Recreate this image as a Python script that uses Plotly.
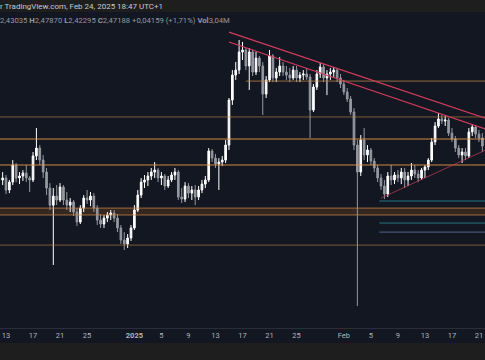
import plotly.graph_objects as go
import pandas as pd

# 12h candles, XRPUSD style, Dec 12 2024 12:00 -> Feb 21 2025 12:00
start = "2024-12-12 12:00"
n_candles = 143

opens = [2.537,2.549,2.476,2.524,2.628,2.549,2.561,2.579,2.549,2.537,
         2.683,2.731,2.658,2.585,2.488,2.384,2.439,2.415,2.494,2.415,
         2.384,2.403,2.342,2.281,2.366,2.427,2.415,2.439,2.366,2.293,
         2.269,2.305,2.324,2.336,2.305,2.245,2.172,2.148,2.184,2.245,
         2.354,2.445,2.524,2.537,2.561,2.585,2.597,2.549,2.561,2.500,
         2.537,2.567,2.585,2.433,2.421,2.500,2.457,2.476,2.433,2.476,
         2.512,2.537,2.713,2.670,2.634,2.646,2.658,2.749,3.023,3.175,
         3.205,3.315,3.327,3.230,3.315,3.193,3.278,3.230,3.059,3.145,
         3.291,3.157,3.193,3.230,3.193,3.175,3.157,3.205,3.157,3.175,
         3.181,3.163,2.962,3.102,3.181,3.224,3.157,3.181,3.193,3.205,
         3.157,3.120,3.072,3.029,2.950,2.749,2.585,2.780,2.689,2.719,
         2.652,2.610,2.549,2.500,2.451,2.561,2.537,2.567,2.549,2.585,
         2.537,2.561,2.597,2.573,2.549,2.597,2.616,2.658,2.768,2.865,
         2.908,2.895,2.901,2.822,2.786,2.731,2.689,2.707,2.683,2.829,
         2.859,2.816,2.792]
highs = [2.585,2.567,2.537,2.658,2.640,2.585,2.597,2.628,2.561,2.707,
         2.853,2.749,2.689,2.610,2.518,2.488,2.506,2.518,2.506,2.464,
         2.427,2.415,2.366,2.384,2.445,2.476,2.464,2.457,2.384,2.330,
         2.324,2.342,2.354,2.354,2.330,2.263,2.220,2.208,2.263,2.384,
         2.476,2.549,2.567,2.585,2.610,2.646,2.610,2.585,2.573,2.561,
         2.585,2.610,2.597,2.488,2.524,2.518,2.500,2.506,2.500,2.537,
         2.561,2.731,2.725,2.695,2.670,2.683,2.780,3.035,3.205,3.254,
         3.388,3.376,3.339,3.339,3.327,3.315,3.291,3.254,3.169,3.327,
         3.303,3.218,3.284,3.254,3.230,3.218,3.230,3.230,3.193,3.205,
         3.218,3.181,3.120,3.205,3.248,3.242,3.205,3.218,3.224,3.218,
         3.181,3.145,3.096,3.047,2.974,2.780,2.810,2.853,2.749,2.731,
         2.670,2.628,2.573,2.537,2.585,2.628,2.585,2.597,2.610,2.610,
         2.585,2.640,2.628,2.597,2.610,2.628,2.670,2.792,2.889,2.944,
         2.932,2.926,2.914,2.853,2.804,2.749,2.731,2.731,2.853,2.877,
         2.871,2.841,2.822]
lows = [2.506,2.451,2.457,2.506,2.524,2.512,2.531,2.524,2.464,2.524,
        2.658,2.628,2.549,2.445,2.354,2.020,2.384,2.403,2.384,2.354,
        2.342,2.318,2.257,2.269,2.342,2.391,2.378,2.342,2.263,2.245,
        2.245,2.281,2.293,2.281,2.220,2.148,2.111,2.123,2.166,2.233,
        2.342,2.427,2.488,2.500,2.537,2.549,2.524,2.506,2.476,2.488,
        2.524,2.537,2.415,2.397,2.403,2.427,2.415,2.384,2.415,2.457,
        2.488,2.524,2.646,2.610,2.476,2.622,2.640,2.719,2.993,3.145,
        3.181,3.266,3.205,3.084,3.169,3.175,3.193,2.932,3.035,3.132,
        3.132,3.132,3.169,3.169,3.145,3.132,3.145,3.132,3.132,3.145,
        3.145,2.792,2.950,3.084,3.157,3.132,3.053,3.145,3.157,3.132,
        3.096,3.053,3.011,2.932,2.719,1.771,2.561,2.658,2.646,2.628,
        2.585,2.524,2.476,2.421,2.433,2.506,2.512,2.524,2.512,2.488,
        2.500,2.537,2.549,2.524,2.537,2.549,2.597,2.646,2.749,2.853,
        2.877,2.865,2.804,2.768,2.707,2.670,2.640,2.658,2.670,2.804,
        2.792,2.768,2.707]
closes = [2.549,2.476,2.524,2.628,2.549,2.561,2.579,2.549,2.537,2.683,
          2.731,2.658,2.585,2.488,2.384,2.439,2.415,2.494,2.415,2.384,
          2.403,2.342,2.281,2.366,2.427,2.415,2.439,2.366,2.293,2.269,
          2.305,2.324,2.336,2.305,2.245,2.172,2.148,2.184,2.245,2.354,
          2.445,2.524,2.537,2.561,2.585,2.597,2.549,2.561,2.500,2.537,
          2.567,2.585,2.433,2.421,2.500,2.457,2.476,2.433,2.476,2.512,
          2.537,2.713,2.670,2.634,2.646,2.658,2.749,3.023,3.175,3.205,
          3.315,3.327,3.230,3.315,3.193,3.278,3.230,3.059,3.145,3.291,
          3.157,3.193,3.230,3.193,3.175,3.157,3.205,3.157,3.175,3.181,
          3.163,2.962,3.102,3.181,3.224,3.157,3.181,3.193,3.205,3.157,
          3.120,3.072,3.029,2.950,2.749,2.585,2.780,2.689,2.719,2.652,
          2.610,2.549,2.500,2.451,2.561,2.537,2.567,2.549,2.585,2.537,
          2.561,2.597,2.573,2.549,2.597,2.616,2.658,2.768,2.865,2.908,
          2.895,2.901,2.822,2.786,2.731,2.689,2.707,2.683,2.829,2.859,
          2.816,2.792,2.743]

# horizontal support / resistance levels
orange_levels = [2.920, 2.786, 2.628, 2.141]
band_levels = [2.366, 2.324]
short_level = 3.138
short_level_start = "2025-01-17 12:00"
teal_levels = [2.409, 2.275, 2.220]
teal_start = "2025-02-06 06:00"

# trend lines (time, price)
upper_trend = [("2025-01-15 00:00", 3.436), ("2025-02-22 00:00", 2.912)]
lower_trend = [("2025-01-15 00:00", 3.376), ("2025-02-22 00:00", 2.846)]
rising_trend = [("2025-02-06 12:00", 2.427), ("2025-02-22 00:00", 2.719)]

tick_dates = ["2024-12-13","2024-12-17","2024-12-21","2024-12-25","2025-01-01",
              "2025-01-05","2025-01-09","2025-01-13","2025-01-17","2025-01-21",
              "2025-01-25","2025-02-01","2025-02-05","2025-02-09","2025-02-13",
              "2025-02-17","2025-02-21"]
tick_labels = ["13","17","21","25","<b>2025</b>","5","9","13","17","21","25",
               "Feb","5","9","13","17","21"]

times = pd.date_range(start=start, periods=n_candles, freq="12h")

BG = "#131722"
STRIP = "#1e1e1e"

fig = go.Figure()
fig.add_trace(go.Candlestick(
    x=times, open=opens, high=highs, low=lows, close=closes,
    increasing=dict(line=dict(color="#ffffff", width=1), fillcolor="#ffffff"),
    decreasing=dict(line=dict(color="#9598a1", width=1), fillcolor="#9598a1"),
    whiskerwidth=0, showlegend=False, hoverinfo="skip",
))

x_start = "2024-12-12 02:40"
x_end = "2025-02-21 21:20"

shapes = []
# band fill
shapes.append(dict(type="rect", xref="paper", x0=0, x1=1, yref="y",
                   y0=band_levels[1], y1=band_levels[0],
                   fillcolor="rgba(120,72,30,0.35)", line=dict(width=0), layer="below"))
for lv in band_levels:
    shapes.append(dict(type="line", xref="paper", x0=0, x1=1, yref="y", y0=lv, y1=lv,
                       line=dict(color="rgba(200,135,70,0.75)", width=1)))
for k, lv in enumerate(orange_levels):
    col = "rgba(230,150,70,0.9)" if k in (1, 2) else "rgba(200,135,70,0.6)"
    shapes.append(dict(type="line", xref="paper", x0=0, x1=1, yref="y", y0=lv, y1=lv,
                       line=dict(color=col, width=1)))
shapes.append(dict(type="line", xref="x", x0=short_level_start, x1=x_end, yref="y",
                   y0=short_level, y1=short_level,
                   line=dict(color="rgba(200,135,70,0.75)", width=1)))
teal_cols = ["rgba(38,140,150,0.8)", "rgba(38,140,150,0.8)", "rgba(90,120,160,0.8)"]
for lv, c in zip(teal_levels, teal_cols):
    shapes.append(dict(type="line", xref="x", x0=teal_start, x1=x_end, yref="y",
                       y0=lv, y1=lv, line=dict(color=c, width=1)))
for tl, col, w in [(upper_trend, "#d23c5a", 1.2), (lower_trend, "#d23c5a", 1.2),
                   (rising_trend, "rgba(200,60,90,0.7)", 1)]:
    shapes.append(dict(type="line", xref="x", yref="y", x0=tl[0][0], y0=tl[0][1],
                       x1=tl[1][0], y1=tl[1][1], line=dict(color=col, width=w)))

# top and bottom grey strips (paper coordinates outside plot area)
H = 360
top_m, bot_m = 13, 32
ph = H - top_m - bot_m
def py(Y):
    return (H - bot_m - Y) / ph
shapes.append(dict(type="rect", xref="paper", yref="paper", x0=-0.01, x1=1.01,
                   y0=py(12), y1=py(-2), fillcolor=STRIP, line=dict(width=0), layer="below"))
shapes.append(dict(type="rect", xref="paper", yref="paper", x0=-0.01, x1=1.01,
                   y0=py(362), y1=py(343), fillcolor=STRIP, line=dict(width=0), layer="below"))

annotations = [
    dict(xref="paper", yref="paper", x=-0.004, y=py(6), xanchor="left", yanchor="middle",
         text="r TradingView.com, Feb 24, 2025 18:47 UTC+1", showarrow=False,
         font=dict(size=8, color="#c8cad0", family="Roboto")),
    dict(xref="paper", yref="paper", x=-0.004, y=py(20), xanchor="left", yanchor="middle",
         text=("2,43035 <b>H</b>2,47870 <b>L</b>2,42295 <b>C</b>2,47188 "
               "+0,04159 (+1,71%) <b>Vol</b>3,04M"),
         showarrow=False, font=dict(size=7.7, color="#9598a1", family="Roboto")),
]

fig.update_layout(
    width=485, height=360,
    margin=dict(l=0, r=0, t=top_m, b=bot_m),
    paper_bgcolor=BG, plot_bgcolor=BG,
    shapes=shapes, annotations=annotations,
    xaxis=dict(type="date", range=[x_start, x_end], rangeslider=dict(visible=False),
               showgrid=False, zeroline=False, tickmode="array",
               tickvals=tick_dates, ticktext=tick_labels, ticks="",
               tickfont=dict(size=7.5, color="#b2b5be", family="Roboto"),
               showline=True, linecolor="#2a2e39", linewidth=1),
    yaxis=dict(range=[1.637, 3.552], showgrid=False, zeroline=False,
               showticklabels=False, ticks=""),
    showlegend=False,
)

fig.write_html("out.html", config={"displayModeBar": False},
               post_script="document.body.style.margin='0';document.body.style.overflow='hidden';")
